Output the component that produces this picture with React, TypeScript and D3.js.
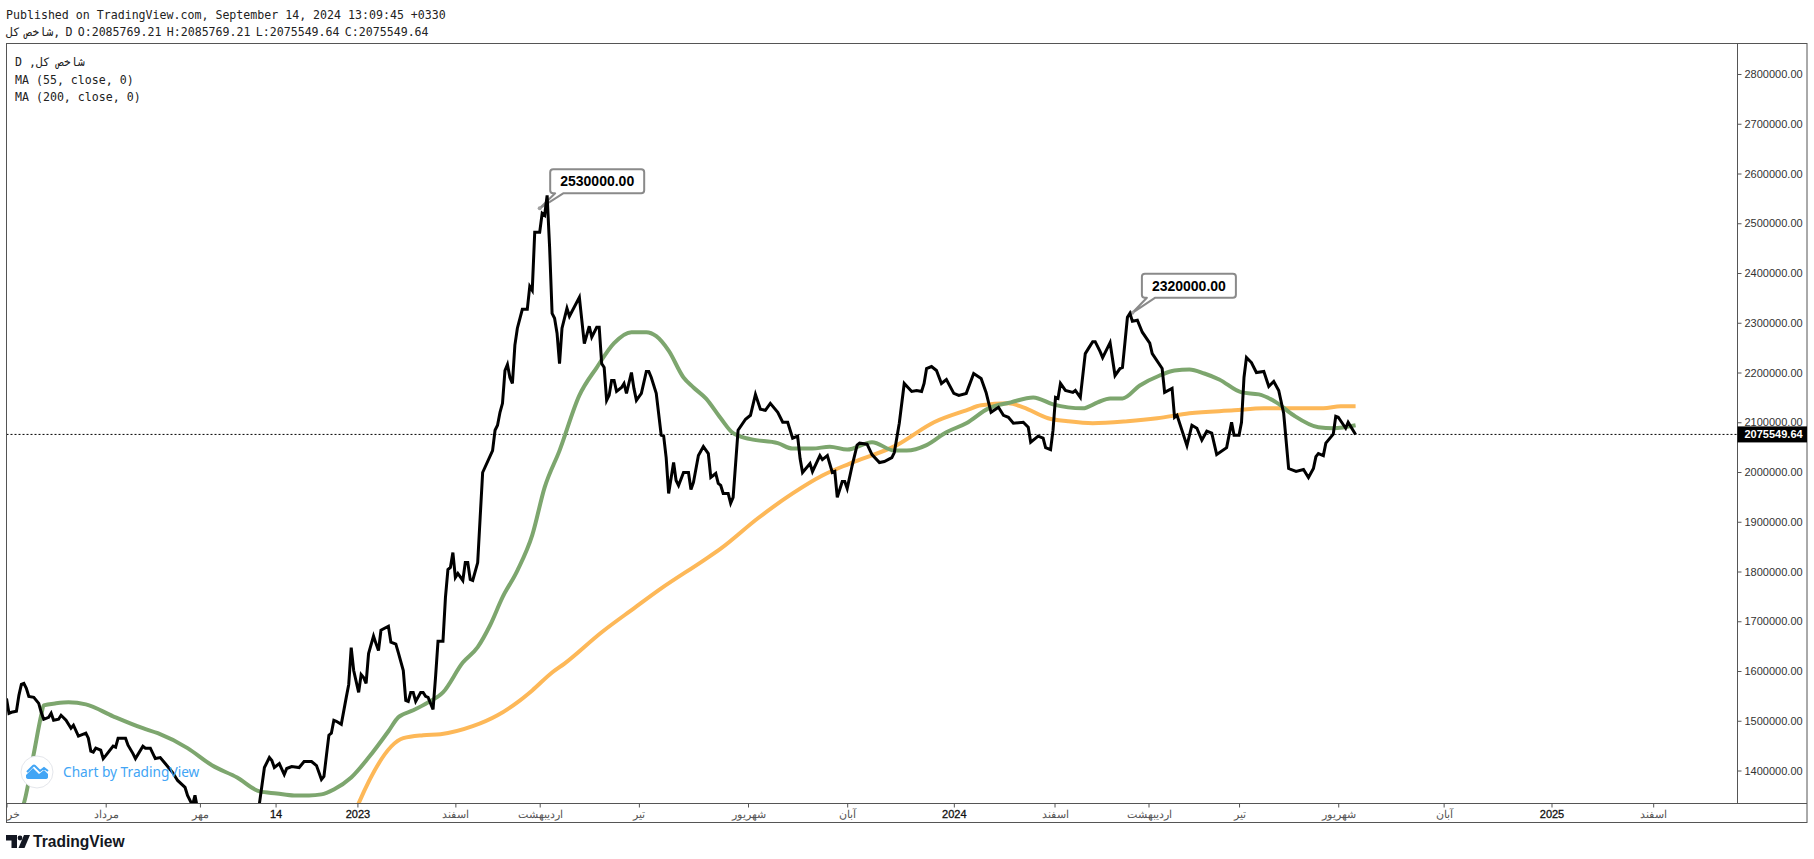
import React, { useEffect, useRef } from 'react';
import * as d3 from 'd3';

type Pt = [number, number];

// values are [session index, index value in thousands]
const closeSeries: Pt[] = [
  [0, 1545], [1, 1515], [2, 1517], [4, 1519], [5, 1551], [6, 1573], [7, 1575], [8, 1565], [9, 1549], [11, 1547],
  [13, 1535], [14, 1517], [15, 1503], [17, 1507], [18, 1515], [19, 1501], [21, 1503], [22, 1511], [24, 1501], [26, 1485],
  [27, 1491], [29, 1469], [32, 1475], [33, 1465], [34, 1439], [35, 1437], [36, 1445], [38, 1441], [39, 1424], [40, 1430],
  [43, 1449], [44, 1447], [45, 1465], [48, 1465], [49, 1451], [51, 1434], [52, 1424], [55, 1449], [56, 1445], [58, 1445],
  [60, 1424], [62, 1426], [64, 1414], [67, 1396], [69, 1380], [72, 1366], [73, 1350], [75, 1330], [76, 1350], [77, 1324],
  [85, 1290], [95, 1260], [101, 1280], [102, 1334], [103, 1370], [104, 1406], [106, 1426], [107, 1420], [108, 1406], [110, 1414],
  [112, 1392], [113, 1404], [115, 1408], [118, 1406], [120, 1418], [123, 1418], [125, 1410], [126, 1396], [127, 1382], [128, 1388],
  [129, 1430], [130, 1471], [131, 1475], [132, 1501], [133, 1499], [135, 1493], [137, 1547], [138, 1573], [139, 1647], [140, 1601],
  [142, 1557], [143, 1593], [144, 1587], [145, 1575], [146, 1635], [148, 1670], [149, 1655], [150, 1641], [151, 1682], [154, 1690],
  [155, 1658], [157, 1654], [158, 1637], [160, 1601], [161, 1541], [162, 1539], [163, 1557], [164, 1557], [165, 1539], [167, 1557],
  [168, 1557], [169, 1549], [170, 1547], [172, 1523], [173, 1587], [174, 1660], [176, 1660], [177, 1748], [178, 1804], [179, 1808],
  [180, 1838], [181, 1788], [182, 1796], [184, 1782], [185, 1818], [186, 1818], [187, 1784], [188, 1782], [190, 1818], [191, 1909],
  [192, 1999], [196, 2043], [197, 2084], [198, 2094], [199, 2120], [200, 2138], [201, 2204], [202, 2216], [203, 2190], [204, 2178],
  [205, 2255], [206, 2289], [208, 2327], [210, 2327], [211, 2373], [212, 2365], [213, 2482], [215, 2482], [216, 2520], [217, 2516],
  [218, 2556], [219, 2452], [220, 2319], [221, 2309], [222, 2279], [223, 2218], [224, 2289], [226, 2329], [227, 2313], [231, 2351],
  [233, 2258], [235, 2293], [236, 2271], [238, 2291], [239, 2291], [240, 2218], [241, 2210], [242, 2144], [243, 2154], [244, 2184],
  [245, 2184], [246, 2162], [248, 2170], [249, 2178], [250, 2158], [252, 2200], [253, 2168], [254, 2144], [256, 2158], [258, 2202],
  [259, 2202], [260, 2190], [262, 2158], [264, 2074], [265, 2072], [266, 2029], [267, 1957], [269, 2019], [270, 1983], [271, 1973],
  [273, 1999], [275, 1999], [276, 1965], [277, 1979], [279, 2033], [281, 2051], [283, 2037], [284, 1989], [286, 1997], [287, 1977],
  [288, 1973], [289, 1957], [291, 1957], [292, 1937], [293, 1949], [295, 2084], [298, 2106], [300, 2114], [302, 2156], [304, 2126],
  [306, 2124], [308, 2138], [311, 2120], [313, 2100], [315, 2100], [317, 2068], [319, 2072], [320, 2027], [321, 1999], [324, 2017],
  [325, 2001], [328, 2033], [329, 2025], [331, 2033], [333, 1999], [334, 2001], [335, 1949], [337, 1981], [338, 1981], [339, 1967],
  [341, 2013], [343, 2054], [344, 2058], [347, 2056], [349, 2035], [352, 2019], [354, 2021], [357, 2029], [358, 2039], [360, 2098],
  [362, 2178], [365, 2162], [367, 2164], [369, 2162], [370, 2178], [371, 2208], [373, 2212], [375, 2204], [377, 2178], [379, 2186],
  [382, 2158], [384, 2154], [387, 2158], [390, 2198], [393, 2188], [395, 2160], [397, 2120], [400, 2130], [402, 2114], [404, 2110],
  [406, 2098], [410, 2100], [412, 2090], [413, 2060], [416, 2072], [418, 2068], [419, 2049], [421, 2045], [422, 2084], [423, 2150],
  [424, 2148], [425, 2178], [427, 2164], [430, 2160], [431, 2164], [433, 2150], [435, 2238], [437, 2254], [438, 2262], [439, 2262],
  [441, 2242], [442, 2230], [445, 2260], [447, 2194], [449, 2208], [450, 2210], [452, 2311], [453, 2319], [454, 2303], [456, 2305],
  [458, 2281], [461, 2259], [462, 2238], [466, 2208], [467, 2160], [470, 2168], [471, 2110], [472, 2114], [476, 2053], [478, 2094],
  [480, 2088], [482, 2064], [484, 2082], [486, 2078], [488, 2035], [492, 2049], [494, 2100], [495, 2074], [497, 2074], [498, 2100],
  [499, 2190], [500, 2230], [502, 2220], [504, 2200], [507, 2202], [509, 2172], [511, 2182], [513, 2164], [515, 2118], [517, 2007],
  [520, 2001], [523, 2005], [525, 1989], [527, 2007], [528, 2031], [529, 2037], [531, 2033], [532, 2058], [535, 2076], [536, 2112],
  [537, 2110], [540, 2088], [541, 2100], [544, 2075.55],
];

const ma55Series: Pt[] = [
  [6, 1320], [7, 1334], [11, 1434], [14, 1511], [15, 1531], [20, 1535], [25, 1537], [32, 1533], [43, 1509], [55, 1485],
  [61, 1475], [73, 1445], [83, 1410], [93, 1386], [102, 1358], [109, 1354], [116, 1350], [122, 1350], [127, 1352], [132, 1362],
  [139, 1386], [146, 1426], [154, 1479], [158, 1507], [164, 1521], [170, 1537], [176, 1557], [184, 1617], [190, 1648], [195, 1692],
  [200, 1748], [206, 1802], [212, 1873], [217, 1969], [223, 2043], [231, 2154], [238, 2210], [245, 2259], [252, 2281], [258, 2281],
  [262, 2273], [267, 2244], [273, 2190], [277, 2170], [282, 2148], [288, 2108], [293, 2078], [300, 2066], [311, 2058], [317, 2047],
  [325, 2047], [332, 2051], [339, 2045], [349, 2060], [358, 2043], [363, 2043], [371, 2054], [379, 2080], [387, 2098], [396, 2128],
  [405, 2140], [414, 2150], [422, 2136], [434, 2128], [440, 2140], [445, 2148], [450, 2148], [457, 2174], [465, 2194], [471, 2204],
  [477, 2206], [483, 2198], [489, 2186], [498, 2160], [505, 2156], [512, 2140], [519, 2114], [529, 2090], [535, 2088], [544, 2094],
];

const ma200Series: Pt[] = [
  [140, 1310], [142, 1334], [160, 1465], [168, 1471], [175, 1473], [188, 1489], [198, 1511], [206, 1537], [212, 1561], [220, 1597],
  [225, 1615], [240, 1678], [253, 1726], [264, 1766], [281, 1822], [288, 1846], [303, 1907], [317, 1957], [329, 1993], [340, 2017],
  [359, 2054], [374, 2100], [387, 2124], [393, 2134], [404, 2138], [410, 2130], [420, 2108], [428, 2102], [438, 2098], [452, 2102],
  [464, 2108], [477, 2118], [495, 2124], [507, 2128], [531, 2128], [538, 2132], [544, 2132],
];

const priceTicks = [1400, 1500, 1600, 1700, 1800, 1900, 2000, 2100, 2200, 2300, 2400, 2500, 2600, 2700, 2800];
const timeTickBars = [0, 40, 78, 108.5, 141.5, 181, 215, 255, 299, 339, 382, 422.6, 460.5, 497, 537, 579.5, 623, 664];
const timeTickLabels = ['خرداد', 'مرداد', 'مهر', '14', '2023', 'اسفند', 'اردیبهشت', 'تیر', 'شهریور', 'آبان', '2024', 'اسفند', 'اردیبهشت', 'تیر', 'شهریور', 'آبان', '2025', 'اسفند'];
const lastClose = 2075.55;
const lastCloseLabel = '2075549.64';
const callouts = [
  { bar: 215, value: 2530, text: '2530000.00', dx: 11, dy: -39 },
  { bar: 454, value: 2320, text: '2320000.00', dx: 10, dy: -39 },
];
const legendLines = ['\u202Bشاخص کل, D\u202C', 'MA (55, close, 0)', 'MA (200, close, 0)'];

const W = 1814;
const H = 859;
const plot = { left: 6.5, right: 1737.5, top: 43.5, bottom: 803.5, outerRight: 1807, outerBottom: 822.5 };
const MONO = '"DejaVu Sans Mono", monospace';
const SANS = '"Liberation Sans", Arial, sans-serif';

const x = d3.scaleLinear().domain([0, 698]).range([plot.left, plot.right]);
const y = d3.scaleLinear().domain([1333.7, 2861.3]).range([plot.bottom, plot.top]);
const line = d3.line<Pt>().x(d => x(d[0])).y(d => y(d[1]));
const smoothLine = d3.line<Pt>().x(d => x(d[0])).y(d => y(d[1])).curve(d3.curveMonotoneX);

const isYearLabel = (i: number) => /^\d+$/.test(timeTickLabels[i]);

const App: React.FC = () => {
  const yAxisRef = useRef<SVGGElement>(null);
  const xAxisRef = useRef<SVGGElement>(null);

  useEffect(() => {
    if (!yAxisRef.current || !xAxisRef.current) return;

    const yAxis = d3.axisRight(y)
      .tickValues(priceTicks)
      .tickSize(4)
      .tickPadding(3)
      .tickFormat(d => (+d * 1000).toFixed(2));
    const yg = d3.select(yAxisRef.current);
    yg.selectAll('*').remove();
    yg.call(yAxis);
    yg.select('.domain').remove();
    yg.selectAll('line').attr('stroke', '#555');
    yg.selectAll('text').attr('fill', '#333').style('font', `11px ${SANS}`);

    const xAxis = d3.axisBottom(x)
      .tickValues(timeTickBars)
      .tickSize(4)
      .tickPadding(3)
      .tickFormat((_, i) => timeTickLabels[i]);
    const xg = d3.select(xAxisRef.current);
    xg.selectAll('*').remove();
    xg.call(xAxis);
    xg.select('.domain').remove();
    xg.selectAll('line').attr('stroke', '#555');
    xg.selectAll('text')
      .attr('fill', (_, i) => (isYearLabel(i) ? '#111' : '#555'))
      .attr('stroke', (_, i) => (isYearLabel(i) ? '#111' : 'none'))
      .attr('stroke-width', 0.3)
      .style('font', (_, i) => (isYearLabel(i) ? `11px ${SANS}` : `10.5px ${SANS}`));
  }, []);

  const calloutPath = (c: typeof callouts[number]) => {
    // box is placed relative to the annotated point, tail comes down to it
    const px = x(c.bar);
    const py = y(c.value);
    const l = px + c.dx - 0.5;
    const t = py + c.dy;
    const r = l + 94;
    const b = t + 24;
    return `M${l + 3},${t} H${r - 3} Q${r},${t} ${r},${t + 3} V${b - 3} Q${r},${b} ${r - 3},${b} H${l + 13} L${px},${py} L${l + 5},${b} H${l + 3} Q${l},${b} ${l},${b - 3} V${t + 3} Q${l},${t} ${l + 3},${t} Z`;
  };

  return (
    <svg width={W} height={H} viewBox={`0 0 ${W} ${H}`} style={{ position: 'absolute', left: 0, top: 0, background: '#fff' }}>
      <defs>
        <clipPath id="plot-clip">
          <rect x={plot.left} y={plot.top} width={plot.right - plot.left} height={plot.bottom - plot.top} />
        </clipPath>
        <clipPath id="time-clip">
          <rect x={plot.left} y={plot.bottom} width={plot.outerRight - plot.left} height={plot.outerBottom - plot.bottom} />
        </clipPath>
      </defs>

      <text x={6} y={19} fontFamily={MONO} fontSize={11.6} fill="#222">Published on TradingView.com, September 14, 2024 13:09:45 +0330</text>
      <text x={6} y={36} fontFamily={MONO} fontSize={11.6} fill="#222" wordSpacing={-1.7}>شاخص کل, D O:2085769.21 H:2085769.21 L:2075549.64 C:2075549.64</text>

      {/* Callouts sit under the lines */}
      {callouts.map(c => (
        <g key={c.text}>
          <path d={calloutPath(c)} fill="#fff" stroke="#8a8a8a" strokeWidth={2} strokeLinejoin="round" />
          <circle cx={x(c.bar)} cy={y(c.value)} r={2} fill="#a0a0a0" />
          <text x={x(c.bar) + c.dx + 46.5} y={y(c.value) + c.dy + 17} textAnchor="middle" fontFamily={SANS} fontWeight="bold" fontSize={14} fill="#000">{c.text}</text>
        </g>
      ))}

      <g clipPath="url(#plot-clip)" fill="none">
        <line x1={plot.left} x2={plot.right} y1={y(lastClose)} y2={y(lastClose)} stroke="#000" strokeWidth={1} strokeDasharray="2 2" />
        <path d={smoothLine(ma200Series) ?? ''} stroke="#fdb858" strokeWidth={4} />
        <path d={smoothLine(ma55Series) ?? ''} stroke="#7da66e" strokeWidth={4} />
        <path d={line(closeSeries) ?? ''} stroke="#000" strokeWidth={3} />
      </g>

      {/* Frame */}
      <rect x={plot.left} y={plot.top} width={plot.outerRight - plot.left} height={plot.outerBottom - plot.top} fill="none" stroke="#555" />
      <line x1={plot.right} x2={plot.right} y1={plot.top} y2={plot.bottom} stroke="#555" />
      <line x1={plot.left} x2={plot.outerRight} y1={plot.bottom} y2={plot.bottom} stroke="#555" />

      <g ref={yAxisRef} transform={`translate(${plot.right},0)`} />
      <g clipPath="url(#time-clip)">
        <g ref={xAxisRef} transform={`translate(0,${plot.bottom})`} />
      </g>

      <rect x={plot.right} y={y(lastClose) - 8} width={plot.outerRight - plot.right} height={16} fill="#000" />
      <text x={plot.right + 7} y={y(lastClose) + 4} fontFamily={SANS} fontWeight="bold" fontSize={11} fill="#fff">{lastCloseLabel}</text>

      {legendLines.map((t, i) => (
        <text key={t} x={15} y={66 + i * 17.5} fontFamily={MONO} fontSize={11.6} fill="#222">{t}</text>
      ))}

      {/* Watermark */}
      <circle cx={37} cy={772} r={16} fill="#fff" stroke="#e4e6eb" strokeWidth={1} />
      <path d="M26,777 L26,775 L33,768 L39,774 L44,770 L48,774 L48,777 Q48,779 45,779 L29,779 Q26,779 26,777 Z" fill="#42a5f5" />
      <path d="M27,772 L33,766 Q34,765 35,766 L40,771 L44,768 L48,771" fill="none" stroke="#42a5f5" strokeWidth={2} />
      <text x={63} y={777} fontFamily='"Noto Sans", sans-serif' fontSize={13.7} fill="#42a5f5">Chart by TradingView</text>

      {/* Footer logo */}
      <path d="M6,835 H17 V848 H11.5 V840.5 H6 Z" fill="#131722" />
      <circle cx={20} cy={838} r={2.4} fill="#131722" />
      <path d="M24,835 H30 L24.5,848 H18.5 Z" fill="#131722" />
      <text x={33} y={846.5} fontFamily={SANS} fontWeight="bold" fontSize={15.6} fill="#131722">TradingView</text>
    </svg>
  );
};

export default App;
